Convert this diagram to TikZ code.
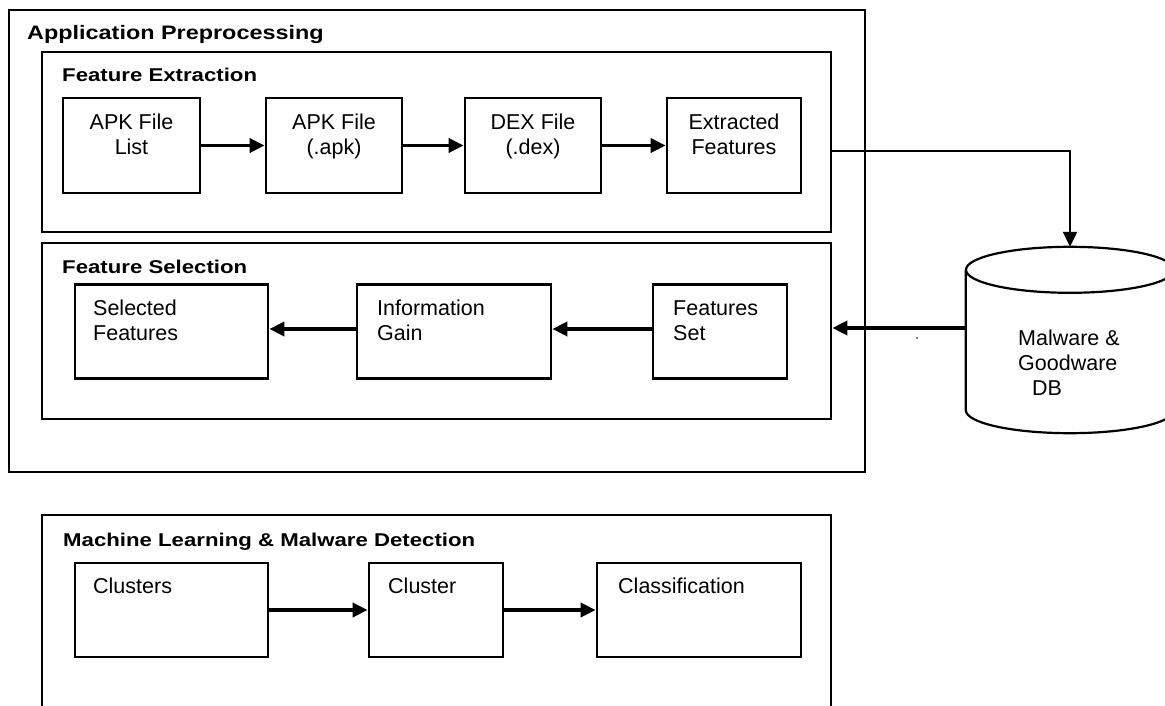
\documentclass[tikz,border=0pt]{standalone}
\usepackage{fontspec}
\setmainfont{Liberation Sans}
\newfontfamily\headfont{Liberation Sans}[FakeStretch=1.2]
\usetikzlibrary{arrows.meta}
\begin{document}
\begin{tikzpicture}[x=1pt,y=-1pt,
  group/.style={draw, line width=2.7pt, inner sep=0pt},
  stage/.style={draw, line width=2.7pt, inner sep=0pt},
  heading/.style={anchor=base west, inner sep=0pt,
    font=\headfont\bfseries\fontsize{18.5}{22}\selectfont},
  lbl/.style={inner sep=0pt, font=\fontsize{21.5}{25}\selectfont},
  arr/.style={line width=3.6pt, -{Triangle[length=15pt,width=14pt]}},
  link/.style={line width=2.2pt, -{Triangle[length=15pt,width=14pt]}},
]
\useasboundingbox (0,0) rectangle (1165,706);
\clip (0,0) rectangle (1165,706);

% group frames
\node[group, minimum width=856pt, minimum height=462pt] (app) at (437,241) {};
\node[group, minimum width=789pt, minimum height=180pt] (fe) at (436.5,142) {};
\node[group, minimum width=789pt, minimum height=176pt] (fs) at (436.5,331) {};
\node[group, minimum width=789pt, minimum height=245pt] (ml) at (436.5,637.5) {};

\node[heading, font=\headfont\bfseries\fontsize{19.5}{23}\selectfont] (happ) at (27,40) {Application Preprocessing};
\node[heading] (hfe) at (62,82) {Feature Extraction};
\node[heading] (hfs) at (62,273) {Feature Selection};
\node[heading] (hml) at (63,546) {Machine Learning \& Malware Detection};

% feature extraction stages
\node[stage, minimum width=137pt, minimum height=95pt] (apklist) at (131.5,145.5) {};
\node[stage, minimum width=136pt, minimum height=95pt] (apk) at (334,145.5) {};
\node[stage, minimum width=136pt, minimum height=95pt] (dex) at (533,145.5) {};
\node[stage, minimum width=134pt, minimum height=95pt] (ext) at (734,145.5) {};

% two-line labels: the base anchor sits on the last line
\node[lbl, align=center, anchor=base] (tapklist) at (131.5,155) {APK File\\List};
\node[lbl, align=center, anchor=base] (tapk) at (334,155) {APK File\\(.apk)};
\node[lbl, align=center, anchor=base] (tdex) at (533,155) {DEX File\\(.dex)};
\node[lbl, align=center, anchor=base] (text) at (734,155) {Extracted\\Features};

\draw[arr] (apklist.east) -- (apk.west);
\draw[arr] (apk.east) -- (dex.west);
\draw[arr] (dex.east) -- (ext.west);

% feature selection stages
\node[stage, minimum width=193pt, minimum height=94pt] (selfeat) at (171.5,331.5) {};
\node[stage, minimum width=194pt, minimum height=94pt] (infogain) at (454,331.5) {};
\node[stage, minimum width=134pt, minimum height=94pt] (featset) at (720,331.5) {};

\node[lbl, align=left, anchor=base west] (tselfeat) at (93,340) {Selected\\Features};
\node[lbl, align=left, anchor=base west] (tinfogain) at (377,340) {Information\\Gain};
\node[lbl, align=left, anchor=base west] (tfeatset) at (673,340) {Features\\Set};

\draw[arr] ([yshift=2.5pt]featset.west) -- ([yshift=2.5pt]infogain.east);
\draw[arr] ([yshift=2.5pt]infogain.west) -- ([yshift=2.5pt]selfeat.east);

% machine learning stages
\node[stage, minimum width=193pt, minimum height=94pt] (clusters) at (171.5,610) {};
\node[stage, minimum width=134pt, minimum height=94pt] (cluster) at (436,610) {};
\node[stage, minimum width=204pt, minimum height=94pt] (classif) at (699,610) {};

\node[lbl, anchor=base west] (tclusters) at (93,593) {Clusters};
\node[lbl, anchor=base west] (tcluster) at (388,593) {Cluster};
\node[lbl, anchor=base west] (tclassif) at (618,593) {Classification};

\draw[arr] (clusters.east) -- (cluster.west);
\draw[arr] (cluster.east) -- (classif.west);

% database cylinder
\node[inner sep=0pt, minimum width=208pt, minimum height=140pt] (db) at (1070,340) {};
\draw[line width=2.2pt] (db.north west) -- (db.south west)
  arc[start angle=180, end angle=360, x radius=104pt, y radius=23pt]
  -- (db.north east);
\draw[line width=2.2pt] (db.north) ellipse [x radius=104pt, y radius=23pt];
\coordinate (dbtop) at ([yshift=23pt]db.north);
\node[lbl, align=left, anchor=base west] (tdb) at (1018,395)
  {Malware \&\\Goodware\\\hspace*{14pt}DB};

\draw[link] ([yshift=-9pt]fe.east) -| (dbtop);
\draw[arr] ([yshift=12pt]db.west) -- ([yshift=3pt]fs.east);

\fill (917,338) circle[radius=0.9pt];
\end{tikzpicture}
\end{document}
